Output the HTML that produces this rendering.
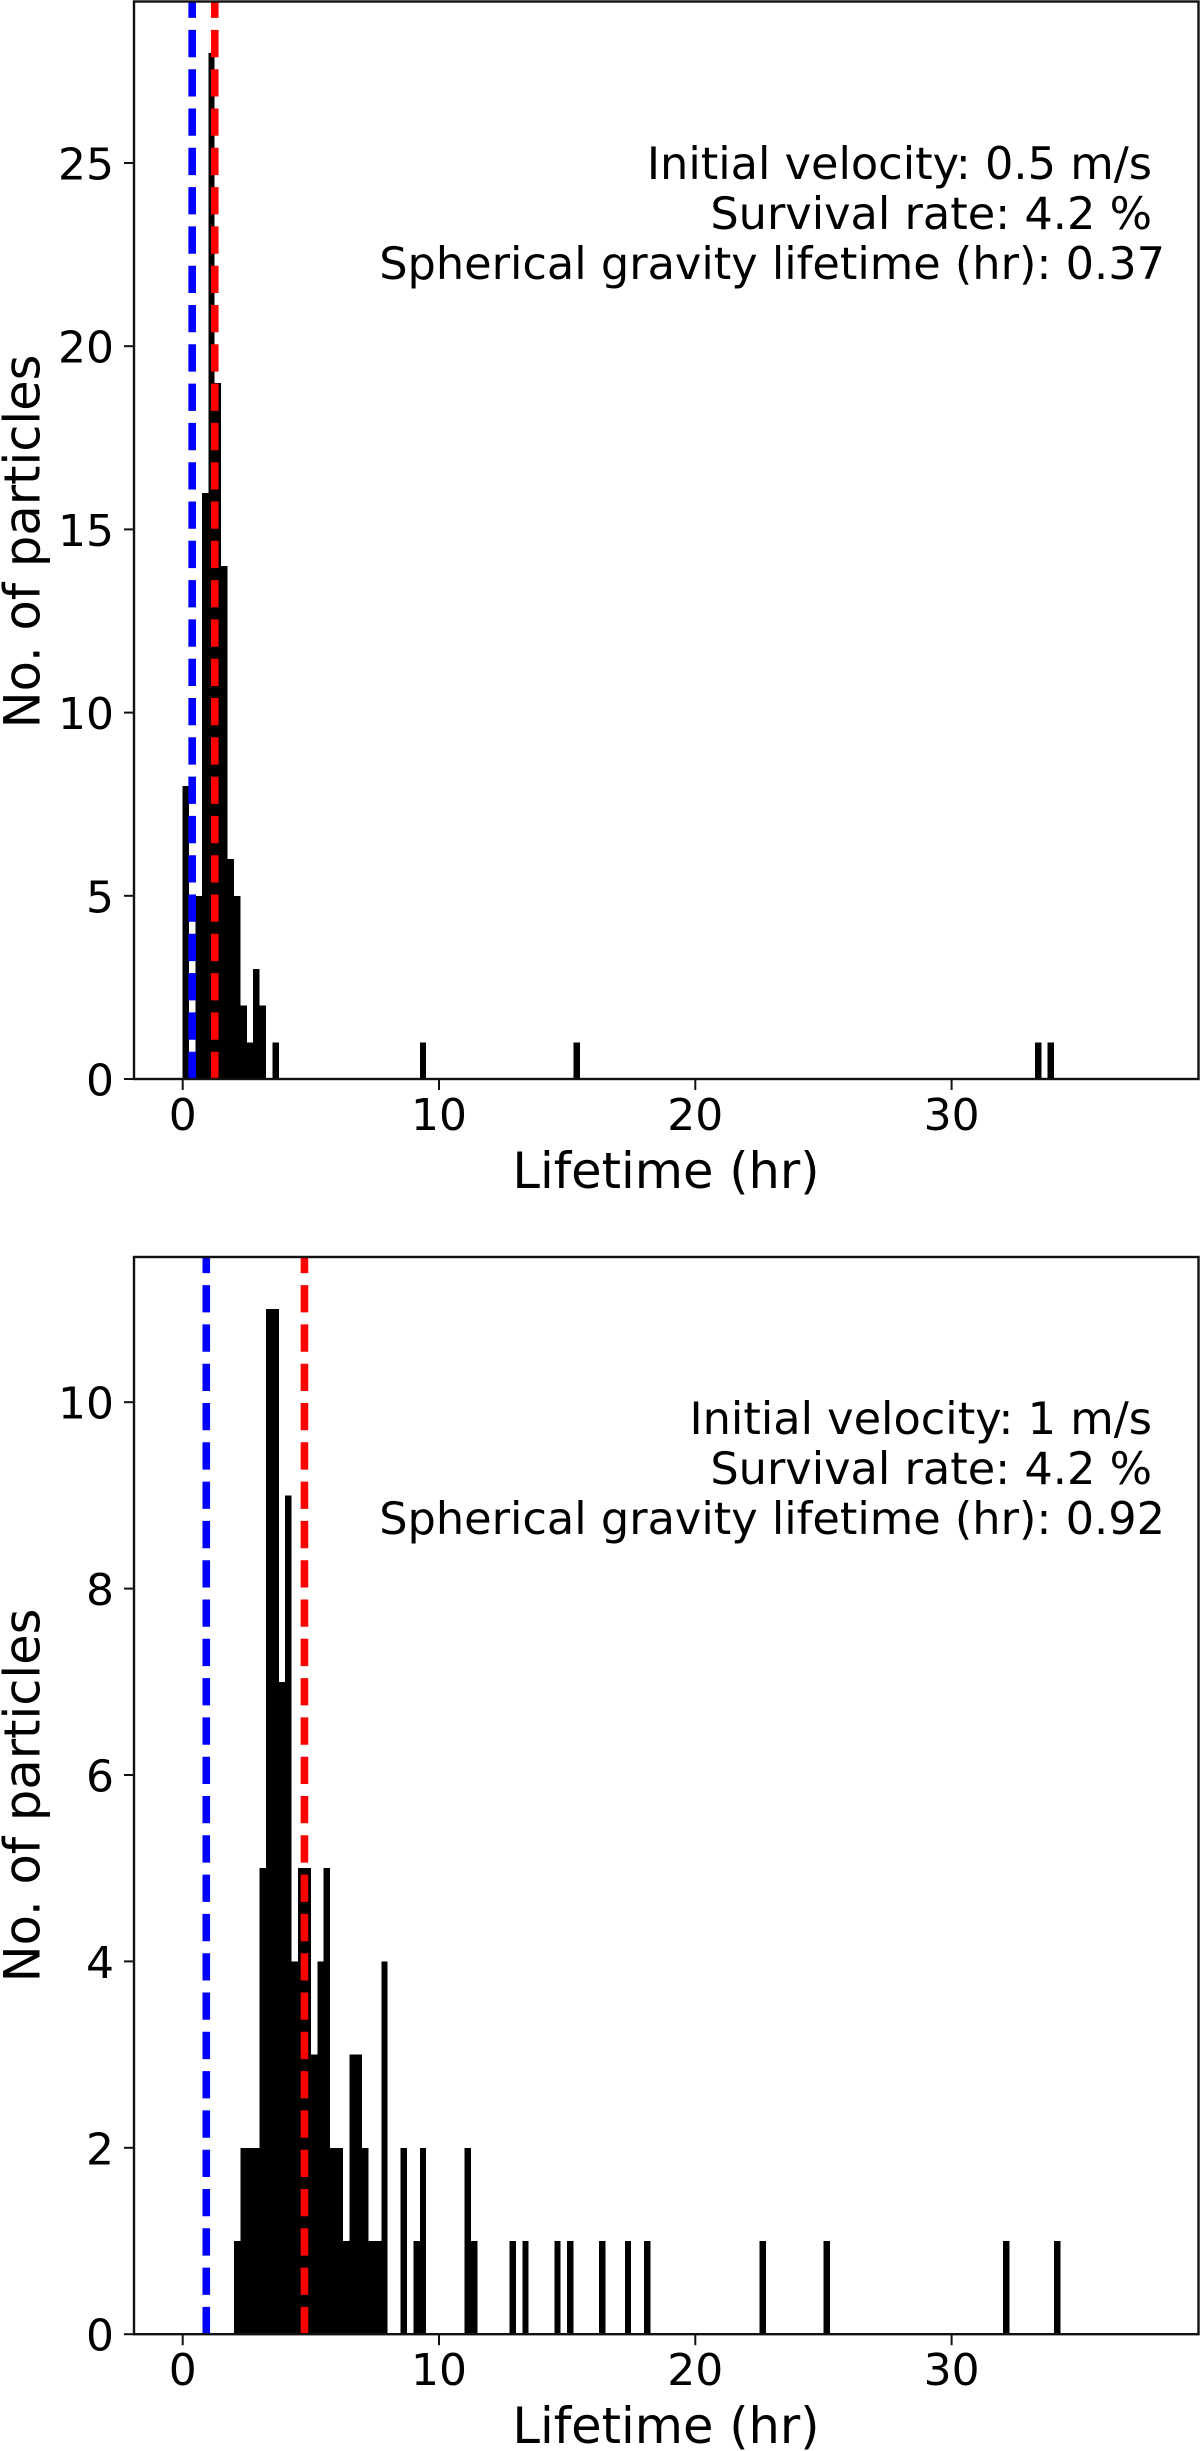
<!DOCTYPE html>
<html lang="en">
<head>
<meta charset="utf-8">
<title>Particle lifetime histograms</title>
<style>
html,body{margin:0;padding:0;background:#fff;}
svg{display:block;}
text{font-family:"DejaVu Sans","Liberation Sans",sans-serif;fill:#000;}
.tick{font-size:44px;}
.label{font-size:49.5px;}
.note{font-size:44.65px;}
</style>
</head>
<body>
<svg id="figure" xmlns="http://www.w3.org/2000/svg" width="1200" height="2451" viewBox="0 0 1200 2451">
  <rect width="1200" height="2451" fill="#fff"/>
  <g id="panel-top"></g>
  <g id="panel-bottom"></g>

  <g>
    <text class="note" x="1152" y="179" text-anchor="end">Initial velocity: 0.5 m/s</text>
    <text class="note" x="1152" y="229" text-anchor="end">Survival rate: 4.2 %</text>
    <text class="note" x="1165" y="279" text-anchor="end">Spherical gravity lifetime (hr): 0.37</text>
  </g>
  <text class="label" x="666" y="1188" text-anchor="middle">Lifetime (hr)</text>
  <text class="label" transform="translate(39.5 541.5) rotate(-90)" text-anchor="middle">No. of particles</text>

  <g>
    <text class="note" x="1152" y="1434" text-anchor="end">Initial velocity: 1 m/s</text>
    <text class="note" x="1152" y="1484" text-anchor="end">Survival rate: 4.2 %</text>
    <text class="note" x="1165" y="1534" text-anchor="end">Spherical gravity lifetime (hr): 0.92</text>
  </g>
  <text class="label" x="666" y="2443" text-anchor="middle">Lifetime (hr)</text>
  <text class="label" transform="translate(39.5 1795.5) rotate(-90)" text-anchor="middle">No. of particles</text>
</svg>

<script>
// Shared histogram data
const binWidthHours = 0.25;
const xTickLabels = [0, 10, 20, 30];

// Top panel (initial velocity 0.5 m/s)
const topBinStarts = [0, 0.5, 0.75, 1, 1.25, 1.5, 1.75, 2, 2.25, 2.5, 2.75, 3, 3.5, 9.25, 15.25, 33.25, 33.75];
const topCounts = [8, 5, 16, 28, 19, 14, 6, 5, 2, 1, 3, 2, 1, 1, 1, 1, 1];
const topYTickLabels = [0, 5, 10, 15, 20, 25];
const topSphericalLifetime = 0.37;
const topMeanLifetime = 1.25;

// Bottom panel (initial velocity 1 m/s)
const bottomBinStarts = [2, 2.25, 2.5, 2.75, 3, 3.25, 3.5, 3.75, 4, 4.25, 4.5, 4.75, 5, 5.25, 5.5, 5.75, 6, 6.25, 6.5, 6.75, 7, 7.25, 7.5, 7.75, 8.5, 9, 9.25, 11, 11.25, 12.75, 13.25, 14.5, 15, 16.25, 17.25, 18, 22.5, 25, 32, 34];
const bottomCounts = [1, 2, 2, 2, 5, 11, 11, 7, 9, 4, 5, 5, 3, 4, 5, 2, 2, 1, 3, 3, 2, 1, 1, 4, 2, 1, 2, 2, 1, 1, 1, 1, 1, 1, 1, 1, 1, 1, 1, 1];
const bottomYTickLabels = [0, 2, 4, 6, 8, 10];
const bottomSphericalLifetime = 0.92;
const bottomMeanLifetime = 4.75;

const SVG_NS = 'http://www.w3.org/2000/svg';

function makeEl(tag, attrs) {
  const el = document.createElementNS(SVG_NS, tag);
  for (const k in attrs) el.setAttribute(k, attrs[k]);
  return el;
}

function drawPanel(group, prefix, box, binStarts, counts, yTicks, sphericalLifetime, meanLifetime) {
  const xScale = h => box.x0 + h * box.pxPerHour;
  const yScale = c => box.yBase - c * box.pxPerCount;

  binStarts.forEach((start, i) => {
    const bar = makeEl('rect', {
      x: xScale(start),
      y: yScale(counts[i]),
      width: xScale(start + binWidthHours) - xScale(start),
      height: yScale(0) - yScale(counts[i]),
      fill: '#000',
      'shape-rendering': 'crispEdges'
    });
    
    
    group.appendChild(bar);
  });

  const blue = makeEl('line', {
    x1: xScale(sphericalLifetime), x2: xScale(sphericalLifetime),
    y1: box.yBase, y2: box.top,
    stroke: '#0000ff', 'stroke-width': 7.6, 'stroke-dasharray': '27.3 12'
  });
  
  
  group.appendChild(blue);

  const red = makeEl('line', {
    x1: xScale(meanLifetime), x2: xScale(meanLifetime),
    y1: box.yBase, y2: box.top,
    stroke: '#ff0000', 'stroke-width': 7.6, 'stroke-dasharray': '27.3 12'
  });
  
  
  group.appendChild(red);

  const frame = makeEl('rect', {
    x: box.left, y: box.top,
    width: box.right - box.left, height: box.yBase - box.top,
    fill: 'none', stroke: '#111', 'stroke-width': 2.4
  });
  
  
  group.appendChild(frame);

  xTickLabels.forEach(v => {
    const tick = makeEl('line', {
      x1: xScale(v), x2: xScale(v), y1: box.yBase, y2: box.yBase + 11,
      stroke: '#111', 'stroke-width': 2
    });
    
    
    group.appendChild(tick);

    const label = makeEl('text', {
      x: xScale(v), y: box.yBase + 51, 'text-anchor': 'middle', class: 'tick'
    });
    label.textContent = String(v);
    
    
    group.appendChild(label);
  });

  yTicks.forEach(v => {
    const tick = makeEl('line', {
      x1: box.left - 10, x2: box.left, y1: yScale(v), y2: yScale(v),
      stroke: '#111', 'stroke-width': 2
    });
    
    
    group.appendChild(tick);

    const label = makeEl('text', {
      x: box.left - 20, y: yScale(v) + 16.5, 'text-anchor': 'end', class: 'tick'
    });
    label.textContent = String(v);
    
    
    group.appendChild(label);
  });
}

drawPanel(
  document.getElementById('panel-top'), 'top',
  { left: 134, right: 1198.5, top: 1.5, yBase: 1079, x0: 182.7, pxPerHour: 25.63, pxPerCount: 36.64 },
  topBinStarts, topCounts, topYTickLabels, topSphericalLifetime, topMeanLifetime
);
drawPanel(
  document.getElementById('panel-bottom'), 'bottom',
  { left: 134, right: 1198.5, top: 1257, yBase: 2334.2, x0: 182.7, pxPerHour: 25.63, pxPerCount: 93.2 },
  bottomBinStarts, bottomCounts, bottomYTickLabels, bottomSphericalLifetime, bottomMeanLifetime
);
</script>
</body>
</html>
